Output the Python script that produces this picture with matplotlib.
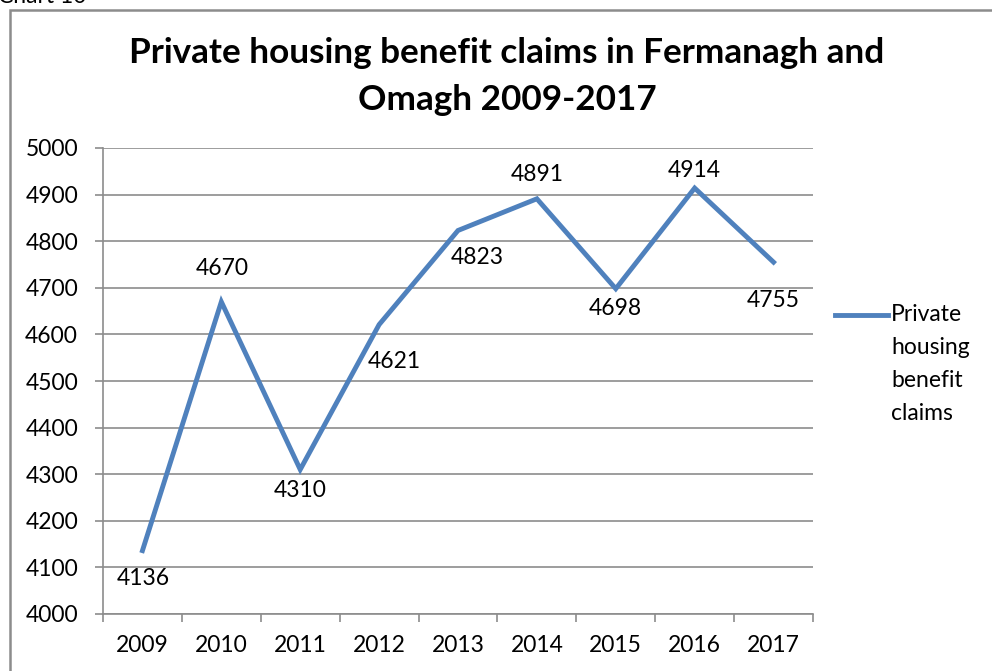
import matplotlib
matplotlib.use("Agg")
import matplotlib.pyplot as plt
from matplotlib.patches import Rectangle

# data
years = ["2009", "2010", "2011", "2012", "2013", "2014", "2015", "2016", "2017"]
claims = [4136, 4670, 4310, 4621, 4823, 4891, 4698, 4914, 4755]

# label offsets in pixels (dx, dy) relative to each point
label_offsets = [(1, -28), (1, 33), (0, -21), (15, -37), (19, -27),
                 (0, 24), (0, -20), (0, 18), (0, -38)]

FONT = "Lato"
LINE_COLOR = "#4F81BD"
GRID_COLOR = "#8C8C8C"
W, H = 992, 671
FS = 16.5

plt.rcParams["font.family"] = [FONT, "DejaVu Sans"]

fig = plt.figure(figsize=(W / 100, H / 100), dpi=100)
ax = fig.add_axes([103 / W, 1 - 614 / H, (813 - 103) / W, (614 - 148) / H])

x = list(range(len(years)))
ax.plot(x, claims, color=LINE_COLOR, linewidth=3.5, solid_joinstyle="miter",
        label="Private\nhousing\nbenefit\nclaims")

for xi, v, (dx, dy) in zip(x, claims, label_offsets):
    ax.annotate(str(v), (xi, v), xytext=(dx, dy), textcoords="offset pixels",
                ha="center", va="center", fontsize=FS, color="black")

ax.set_xlim(-0.5, len(years) - 0.5)
ax.set_ylim(4000, 5000)
ax.set_yticks(range(4000, 5001, 100))
ax.yaxis.grid(True, color=GRID_COLOR, linewidth=1.2)
ax.set_axisbelow(True)

ax.set_xticks(x)
ax.set_xticklabels(years)
ax.set_xticks([i - 0.5 for i in range(len(years) + 1)], minor=True)
ax.tick_params(axis="x", which="major", length=0, pad=15, labelsize=FS)
ax.tick_params(axis="x", which="minor", length=6, width=1.2, color=GRID_COLOR,
               direction="out")
ax.tick_params(axis="y", length=6, width=1.2, color=GRID_COLOR, pad=12,
               labelsize=FS)

for side in ["top", "right"]:
    ax.spines[side].set_visible(False)
for side in ["left", "bottom"]:
    ax.spines[side].set_color(GRID_COLOR)
    ax.spines[side].set_linewidth(1.2)

leg = ax.legend(loc="upper left", bbox_to_anchor=(835 / W, 1 - 304 / H),
                bbox_transform=fig.transFigure, frameon=False, fontsize=FS,
                handlelength=2.3, handletextpad=0.15, borderaxespad=0,
                borderpad=0, labelspacing=0)
leg.get_texts()[0].set_linespacing(1.7)
# put the legend line next to the first line of the label
handle = leg.get_lines()[0]
line_pt = 33 * 72 / 100
handle.set_ydata([y + 1.5 * line_pt for y in handle.get_ydata()])

fig.text(0.511, 1 - 53 / H, "Private housing benefit claims in Fermanagh and",
         ha="center", va="center", fontsize=25.3, fontweight="bold")
fig.text(0.511, 1 - 100 / H, "Omagh 2009-2017",
         ha="center", va="center", fontsize=25.3, fontweight="bold")

# chart frame and clipped caption
fig.add_artist(Rectangle((10 / W, -0.1), 1.2, 1.1 - 10 / H,
                         transform=fig.transFigure, fill=False,
                         edgecolor="#8C8C8C", linewidth=1.8))
fig.text(-0.002, 1 - 3 / H, "Chart 10", ha="left", va="baseline", fontsize=FS)

fig.savefig("out.png", dpi=100)
